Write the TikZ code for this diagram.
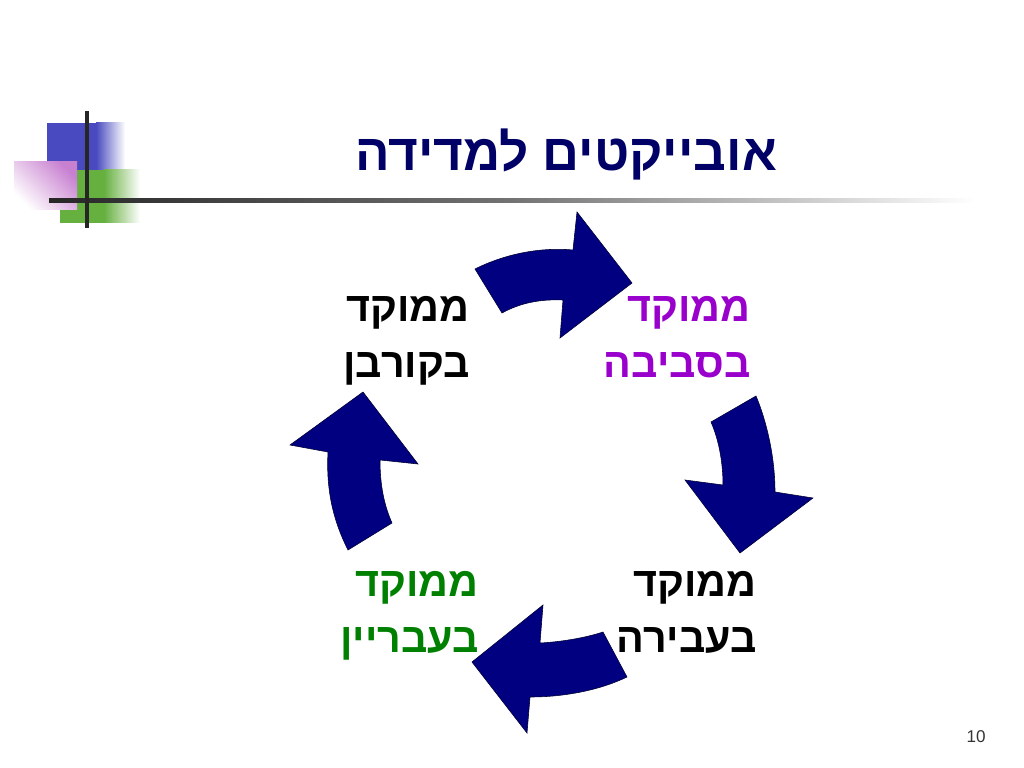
\documentclass[tikz,border=0pt]{standalone}
\usepackage{fontspec}
\setmainfont{Liberation Sans}
\newfontfamily\hebfont[Script=Hebrew]{Liberation Sans}
\TeXXeTstate=1
\usepackage{tikz}
\usetikzlibrary{positioning}
\definecolor{navytitle}{HTML}{000066}
\definecolor{arrowblue}{HTML}{000080}
\definecolor{focuspurple}{HTML}{9900CC}
\definecolor{focusgreen}{HTML}{008000}
\definecolor{decoblue}{HTML}{4A4AC0}
\definecolor{decopink}{HTML}{C880D0}
\definecolor{decogreen}{HTML}{66B040}
\tikzstyle{block arrow} = [fill=arrowblue, draw=black!60!arrowblue, line width=0.4pt]

\begin{document}
\begin{tikzpicture}[x=0.703125pt, y=-0.703125pt, inner sep=0pt,
    label node/.style={anchor=base east, align=right, font=\hebfont\bfseries\fontsize{29}{38.7}\selectfont}]
\useasboundingbox (0,0) rectangle (1024,768);
\fill[decoblue] (47,123) rectangle (97,170);
\shade[left color=decoblue, right color=white] (96,123) rectangle (125,170);
\fill[decogreen] (60,170) rectangle (105,223);
\shade[left color=decogreen, right color=white] (104,170) rectangle (140,223);
\shade[top color=decopink, bottom color=white, shading angle=-45] (14,162) rectangle (77,210);
\shade[left color=black!85, right color=white, middle color=black!55] (49,199) rectangle (975,203);
\fill[black!85] (85,111) rectangle (89,228);
\node[font=\hebfont\bfseries\fontsize{36}{42}\selectfont, text=navytitle, anchor=base] (title) at (566,171) {\beginR אובייקטים למדידה\endR};
\node[label node] (victim) at (470,377) {\beginR ממוקד\endR\\\beginR בקורבן\endR};
\node[label node, text=focuspurple] (surround) at (751,377) {\beginR ממוקד\endR\\\beginR בסביבה\endR};
\node[label node] (offense) at (757,652) {\beginR ממוקד\endR\\\beginR בעבירה\endR};
\node[label node, text=focusgreen] (offender) at (479,652) {\beginR ממוקד\endR\\\beginR בעבריין\endR};
\filldraw[block arrow] (475,269) .. controls (505,254) and (540,247) .. (573,250) -- (577,212) -- (632,283) -- (560,338) -- (563,300) .. controls (540,299) and (520,303) .. (502,313) -- cycle;
\filldraw[block arrow] (756,396) .. controls (768,425) and (775,460) .. (775,492) -- (813,498) -- (740,553) -- (685,480) -- (723,485) .. controls (723,460) and (718,438) .. (711,422) -- cycle;
\filldraw[block arrow] (603,632) -- (627,677) .. controls (600,690) and (565,697) .. (530,697) -- (527,733) -- (472,662) -- (543,605) -- (540,643) .. controls (560,642) and (585,638) .. (603,632) -- cycle;
\filldraw[block arrow] (348,550) -- (392,523) .. controls (384,505) and (380,485) .. (380,460) -- (418,464) -- (363,392) -- (290,445) -- (328,452) .. controls (326,490) and (333,520) .. (348,550) -- cycle;
\node[font=\fontsize{12}{14}\selectfont, text=black!80, anchor=base] (pagenum) at (976,742) {10};
\end{tikzpicture}
\end{document}
